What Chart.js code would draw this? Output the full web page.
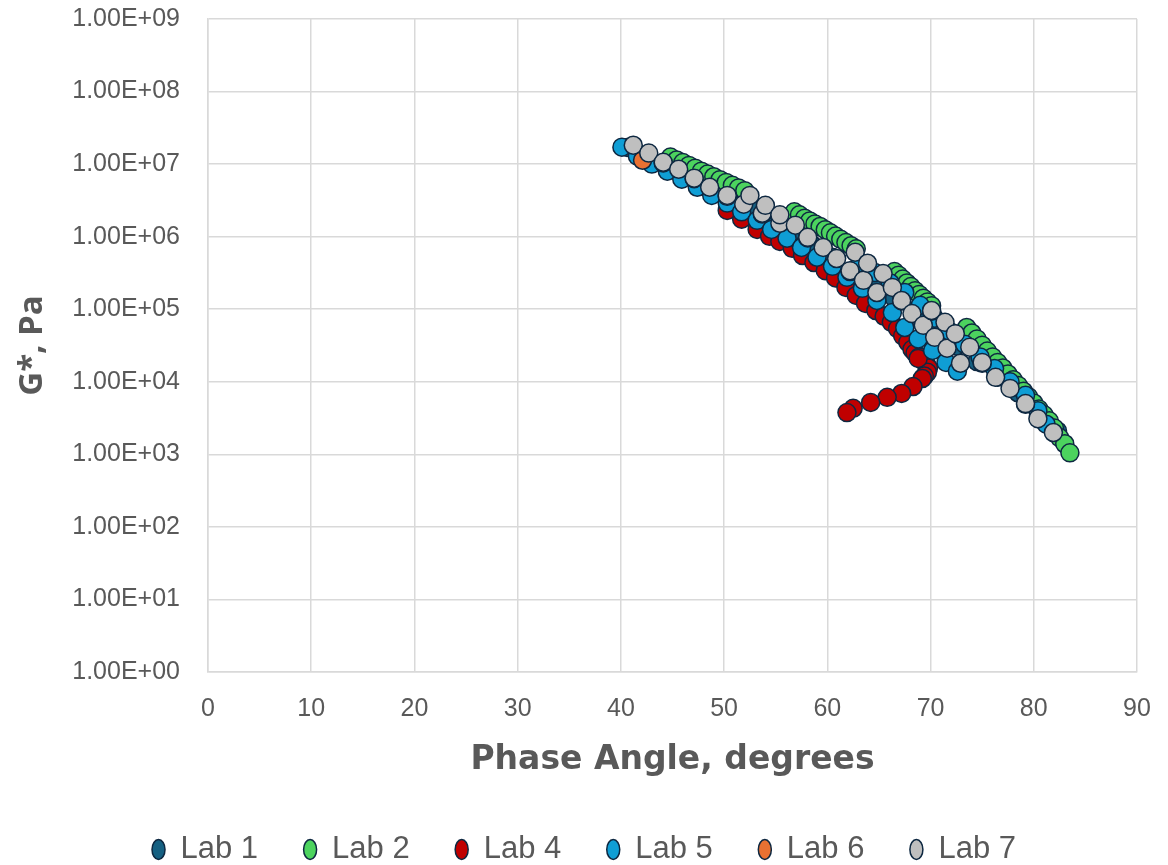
<!DOCTYPE html>
<html>
<head>
<meta charset="utf-8">
<script src="https://cdn.jsdelivr.net/npm/chart.js@4.4.1/dist/chart.umd.min.js"></script>
<style>
  html, body { margin: 0; padding: 0; background: #ffffff; }
  #wrap { width: 1168px; height: 865px; }
</style>
</head>
<body>
<div id="wrap"><canvas id="chart" width="1168" height="865"></canvas></div>
<script>
// axis ticks
const xTicks = [0, 10, 20, 30, 40, 50, 60, 70, 80, 90];
const yTicks = [1, 10, 100, 1e3, 1e4, 1e5, 1e6, 1e7, 1e8, 1e9];

// Lab 1
const lab1Phase = [40.6, 42.5, 44.5, 46.5, 48.5, 50.5, 52.5, 54.5, 56.5, 58.5, 60.5, 62.5, 64.5, 66.5, 68.5, 70.5, 72.5, 74.5, 76.5, 78.5, 80.5, 82.3];
const lab1G = [1.7e7, 1.3e7, 9.5e6, 7.0e6, 5.0e6, 3.5e6, 2.5e6, 1.7e6, 1.15e6, 7.8e5, 5.2e5, 3.4e5, 2.2e5, 1.4e5, 8.5e4, 5.2e4, 3.1e4, 1.9e4, 1.15e4, 7.0e3, 4.0e3, 2.1e3];

// Lab 2
const lab2Phase = [44.8, 45.4, 46.0, 46.6, 47.2, 47.8, 48.4, 49.0, 49.6, 50.2, 50.8, 51.4, 52.0,
  56.8, 57.3, 57.8, 58.3, 58.8, 59.3, 59.8, 60.3, 60.8, 61.3, 61.8, 62.3, 62.8,
  66.5, 66.9, 67.3, 67.7, 68.1, 68.5, 68.9, 69.3, 69.7, 70.1,
  73.5, 74.0, 74.5, 75.0, 75.5, 76.0, 76.5, 77.0, 77.5, 78.0, 78.5, 79.0, 79.5, 80.0, 80.5, 81.0, 81.5, 82.0, 82.5, 83.0, 83.5];
const lab2G = [1.25e7, 1.14e7, 1.05e7, 9.6e6, 8.8e6, 8.0e6, 7.3e6, 6.7e6, 6.1e6, 5.6e6, 5.1e6, 4.7e6, 4.3e6,
  2.2e6, 2.0e6, 1.8e6, 1.65e6, 1.5e6, 1.38e6, 1.25e6, 1.13e6, 1.02e6, 9.2e5, 8.3e5, 7.5e5, 6.8e5,
  3.3e5, 2.95e5, 2.6e5, 2.3e5, 2.05e5, 1.8e5, 1.6e5, 1.42e5, 1.26e5, 1.12e5,
  5.6e4, 4.7e4, 3.9e4, 3.2e4, 2.65e4, 2.2e4, 1.85e4, 1.55e4, 1.28e4, 1.07e4, 8.9e3, 7.4e3, 6.2e3, 5.1e3, 4.2e3, 3.5e3, 2.9e3, 2.3e3, 1.7e3, 1.4e3, 1.05e3];

// Lab 4
const lab4Phase = [50.3, 51.7, 53.2, 54.4, 55.4, 56.6, 57.6, 58.7, 59.8, 60.8, 61.8, 62.8, 63.7, 64.7, 65.5, 66.2, 66.8, 67.3, 67.8, 68.2,
  68.5, 68.9, 69.3, 69.6, 69.8, 69.7, 69.4, 69.2, 68.8, 68.3, 67.2, 65.8, 64.2, 62.5, 61.9];
const lab4G = [2.3e6, 1.74e6, 1.26e6, 1.01e6, 8.6e5, 6.9e5, 5.5e5, 4.4e5, 3.4e5, 2.7e5, 2.0e5, 1.55e5, 1.2e5, 9.6e4, 8.0e4, 6.6e4, 5.4e4, 4.3e4, 3.5e4, 2.8e4,
  2.5e4, 2.2e4, 1.95e4, 1.75e4, 1.55e4, 1.35e4, 1.2e4, 1.11e4, 2.1e4, 8.6e3, 6.9e3, 6.1e3, 5.2e3, 4.3e3, 3.76e3];

// Lab 5
const lab5Phase = [40.1, 41.6, 43.0, 44.5, 45.9, 47.4, 48.8, 50.3, 51.7, 53.2, 54.6, 56.1, 57.5, 59.0, 60.5, 61.9, 63.4, 64.8, 66.3, 67.5, 68.8, 70.2, 71.5, 72.6,
  63.2, 64.6, 66.1, 67.5, 69.0, 70.4, 71.9, 73.3, 74.8, 76.2, 77.7, 79.2, 80.4, 81.2];
const lab5G = [1.71e7, 1.29e7, 1.0e7, 8.0e6, 6.2e6, 4.8e6, 3.7e6, 2.9e6, 2.2e6, 1.68e6, 1.26e6, 9.5e5, 7.1e5, 5.2e5, 3.9e5, 2.75e5, 1.94e5, 1.32e5, 9.0e4, 5.6e4, 3.9e4, 2.7e4, 1.85e4, 1.4e4,
  4.4e5, 3.2e5, 2.3e5, 1.7e5, 1.13e5, 7.5e4, 4.9e4, 3.3e4, 2.2e4, 1.52e4, 1.0e4, 6.5e3, 4.0e3, 2.6e3];

// Lab 6
const lab6Phase = [42.1, 44.1, 47.1, 50.3, 53.7, 58.1, 62.2, 67.2, 70.1, 75.0, 79.2];
const lab6G = [1.13e7, 1.04e7, 6.3e6, 3.6e6, 2.05e6, 9.6e5, 3.3e5, 1.3e5, 9.4e4, 1.8e4, 4.9e3];

// Lab 7
const lab7Phase = [41.2, 42.7, 44.1, 45.6, 47.1, 48.6, 50.3, 51.9, 52.5, 53.7, 54.0, 55.4, 55.4, 56.9, 58.1, 59.6, 60.9, 62.2, 62.7, 63.5, 63.9,
  64.8, 65.4, 66.3, 67.2, 68.2, 69.3, 70.1, 70.4, 71.4, 71.6, 72.4, 72.9, 73.8, 75.0, 76.3, 77.7, 79.2, 80.4, 81.9];
const lab7G = [1.82e7, 1.42e7, 1.06e7, 8.5e6, 6.4e6, 4.8e6, 3.7e6, 2.8e6, 3.7e6, 2.1e6, 2.7e6, 1.53e6, 2.0e6, 1.44e6, 9.8e5, 7.1e5, 5.0e5, 3.4e5, 6.1e5, 2.5e5, 4.3e5,
  1.7e5, 3.1e5, 2.0e5, 1.32e5, 8.7e4, 6.0e4, 9.6e4, 4.1e4, 6.6e4, 2.9e4, 4.6e4, 1.8e4, 3.0e4, 1.85e4, 1.15e4, 8.1e3, 5.0e3, 3.1e3, 2.0e3];

const textColor = '#595959';
const gridColor = '#d9d9d9';
const edgeColor = '#0e2841';

const pts = (xs, ys) => xs.map((x, i) => ({ x: x, y: ys[i] }));

const makeSet = (label, xs, ys, color, order) => ({
  label: label,
  data: pts(xs, ys),
  backgroundColor: color,
  borderColor: edgeColor,
  borderWidth: 1.5,
  pointRadius: 9,
  pointHoverRadius: 9,
  order: order
});

// sci format like 1.00E+05
const sciLabel = (v) => {
  const exp = Math.round(Math.log10(v));
  const mant = (v / Math.pow(10, exp)).toFixed(2);
  const sign = exp < 0 ? '-' : '+';
  return mant + 'E' + sign + String(Math.abs(exp)).padStart(2, '0');
};

// legend centred on the whole canvas, not on the padded box
const centerLegend = {
  id: 'centerLegend',
  afterLayout(chart) {
    chart.legend.left = 0;
    chart.legend.right = chart.width;
  }
};

new Chart(document.getElementById('chart'), {
  type: 'scatter',
  data: {
    datasets: [
      makeSet('Lab 1', lab1Phase, lab1G, '#156082', 6),
      makeSet('Lab 2', lab2Phase, lab2G, '#4cd35e', 5),
      makeSet('Lab 4', lab4Phase, lab4G, '#c00000', 4),
      makeSet('Lab 5', lab5Phase, lab5G, '#0f9ed5', 3),
      makeSet('Lab 6', lab6Phase, lab6G, '#e97132', 2),
      makeSet('Lab 7', lab7Phase, lab7G, '#bfbfbf', 1)
    ]
  },
  plugins: [centerLegend],
  options: {
    responsive: false,
    animation: false,
    layout: { padding: { left: 0, right: 31, top: 19, bottom: -10 } },
    plugins: {
      tooltip: { enabled: false },
      legend: {
        position: 'bottom',
        labels: {
          usePointStyle: true,
          pointStyle: 'circle',
          boxHeight: 14,
          pointStyleWidth: 13,
          padding: 45.5,
          color: textColor,
          font: { family: '"Liberation Sans", Arial, sans-serif', size: 31 },
          sort: (a, b) => a.datasetIndex - b.datasetIndex
        }
      }
    },
    scales: {
      x: {
        type: 'linear',
        min: 0,
        max: 90,
        afterBuildTicks: (scale) => { scale.ticks = xTicks.map(v => ({ value: v })); },
        afterFit: (scale) => { scale.height = 116.5; scale.paddingLeft = 0; scale.paddingRight = 0; },
        grid: { color: gridColor, lineWidth: 1.5, drawTicks: false },
        border: { color: gridColor, width: 1.5 },
        ticks: {
          color: textColor,
          padding: 22,
          font: { family: '"Liberation Sans", Arial, sans-serif', size: 25 }
        },
        title: {
          display: true,
          text: 'Phase Angle, degrees',
          color: textColor,
          padding: { top: 0, bottom: 12 },
          font: { family: '"DejaVu Sans", "Liberation Sans", sans-serif', size: 33, weight: 'bold', lineHeight: 1 }
        }
      },
      y: {
        type: 'logarithmic',
        min: 1,
        max: 1e9,
        afterBuildTicks: (scale) => { scale.ticks = yTicks.map(v => ({ value: v })); },
        afterFit: (scale) => { scale.width = 208; scale.paddingTop = 0; scale.paddingBottom = 0; },
        grid: { color: gridColor, lineWidth: 1.5, drawTicks: false },
        border: { color: gridColor, width: 1.5 },
        ticks: {
          color: textColor,
          padding: 28,
          font: { family: '"Liberation Sans", Arial, sans-serif', size: 25 },
          callback: (v) => sciLabel(v)
        },
        title: {
          display: true,
          text: 'G*, Pa',
          color: textColor,
          padding: { top: 16, bottom: 0 },
          font: { family: '"Open Sans", "Liberation Sans", sans-serif', size: 33, weight: 'bold', lineHeight: 1 }
        }
      }
    }
  }
});
</script>
</body>
</html>
